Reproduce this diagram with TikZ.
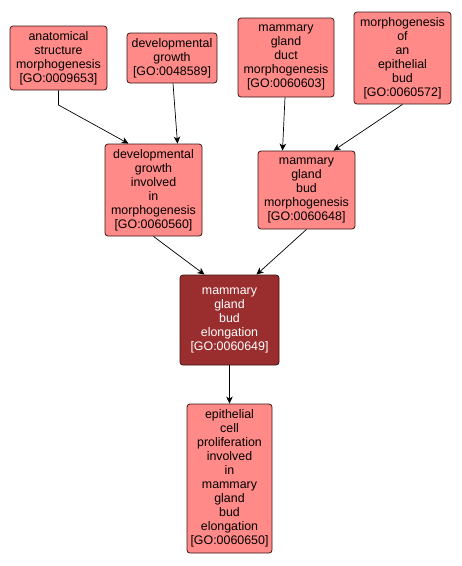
\documentclass[tikz,border=0pt]{standalone}
\usepackage{fontspec}
\setmainfont{Liberation Sans}
\usepackage{tikz}
\usetikzlibrary{arrows.meta, positioning}
\definecolor{termfill}{HTML}{FF8A88}
\definecolor{focusfill}{HTML}{9A2E2E}
\definecolor{termline}{HTML}{3A1414}

\begin{document}
\begin{tikzpicture}[>={Stealth[length=7pt, width=6.5pt, inset=2pt]}, x=1pt, y=-1pt, font=\fontsize{12.4}{14}\selectfont,
    term/.style={draw=termline, rectangle, rounded corners=3pt, fill=termfill, align=center, inner sep=0pt, line width=0.8pt},
    focus/.style={term, fill=focusfill, text=white}]
    \useasboundingbox[fill=white] (0,0) rectangle (462,566);

    % Top row
    \node[term, minimum width=97pt, minimum height=64pt] (anatomy) at (58.5,58) {anatomical\\structure\\morphogenesis\\{[GO:0009653]}};
    \node[term, minimum width=90pt, minimum height=50pt] (devgrowth) at (172,58) {developmental\\growth\\{[GO:0048589]}};
    \node[term, minimum width=96pt, minimum height=79pt] (duct) at (286,57.5) {mammary\\gland\\duct\\morphogenesis\\{[GO:0060603]}};
    \node[term, minimum width=97pt, minimum height=92pt] (epibud) at (402.5,58) {morphogenesis\\of\\an\\epithelial\\bud\\{[GO:0060572]}};

    % Middle row
    \node[term, minimum width=97pt, minimum height=92pt] (growthmorph) at (153.5,190) {developmental\\growth\\involved\\in\\morphogenesis\\{[GO:0060560]}};
    \node[term, minimum width=97pt, minimum height=78pt] (budmorph) at (306.5,190) {mammary\\gland\\bud\\morphogenesis\\{[GO:0060648]}};

    % Focus term
    \node[focus, minimum width=99pt, minimum height=90pt] (elong) at (229.5,320) {mammary\\gland\\bud\\elongation\\{[GO:0060649]}};

    % Child term
    \node[term, minimum width=85pt, minimum height=149pt] (prolif) at (229.5,478.5) {epithelial\\cell\\proliferation\\involved\\in\\mammary\\gland\\bud\\elongation\\{[GO:0060650]}};

    % Arrows
    \coordinate (kink) at (58.5,105);
    \draw[->, line width=0.7pt] (anatomy.south) -- (kink) -- ([xshift=-25pt]growthmorph.north);
    \draw[->, line width=0.7pt] ([xshift=1pt]devgrowth.south) -- ([xshift=24pt]growthmorph.north);
    \draw[->, line width=0.7pt] ([xshift=-1pt]duct.south) -- ([xshift=-24pt]budmorph.north);
    \draw[->, line width=0.7pt] (epibud.south) -- ([xshift=27pt]budmorph.north);
    \draw[->, line width=0.7pt] (growthmorph.south) -- ([xshift=-25pt]elong.north);
    \draw[->, line width=0.7pt] (budmorph.south) -- ([xshift=27pt]elong.north);
    \draw[->, line width=0.7pt] (elong.south) -- (prolif.north);
\end{tikzpicture}
\end{document}
